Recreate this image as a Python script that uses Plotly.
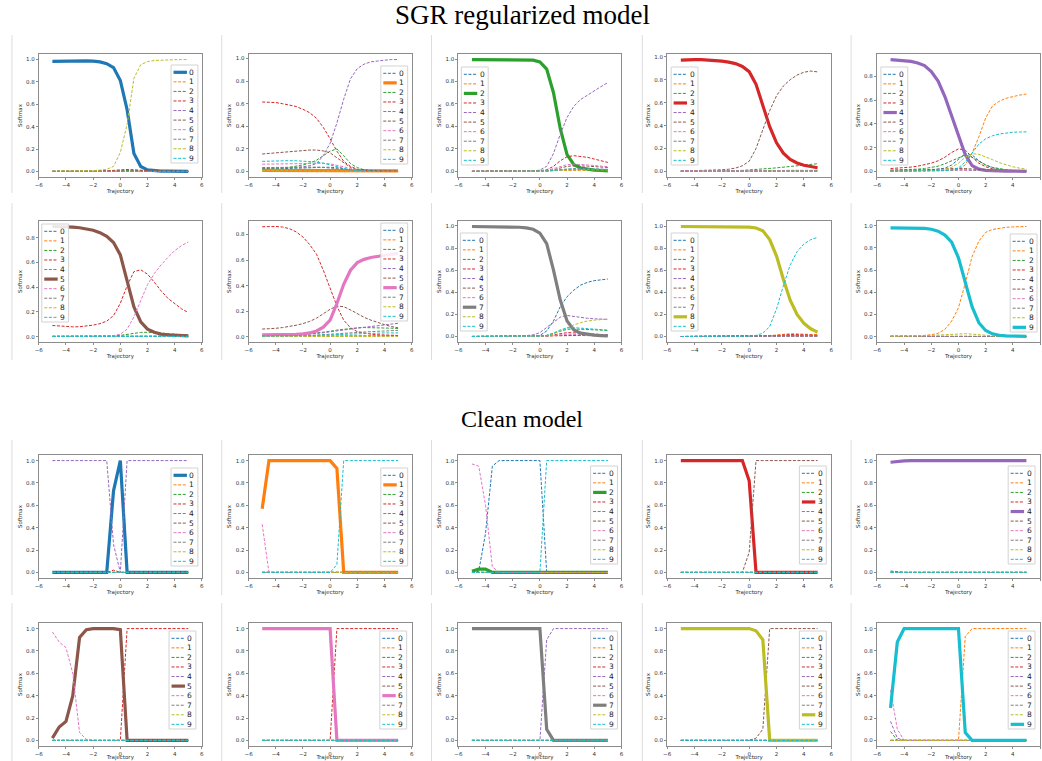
import plotly.graph_objects as go

x_traj = [-5.0, -4.5, -4.0, -3.5, -3.0, -2.5, -2.0, -1.5, -1.0, -0.5, 0.0,
          0.5, 1.0, 1.5, 2.0, 2.5, 3.0, 3.5, 4.0, 4.5, 5.0]
class_labels = ['0', '1', '2', '3', '4', '5', '6', '7', '8', '9']
x_tickvals = [-6, -4, -2, 0, 2, 4, 6]
x_ticktext = ['\u22126', '\u22124', '\u22122', '0', '2', '4', '6']
y_tickvals = [0.0, 0.2, 0.4, 0.6, 0.8, 1.0]
y_ticktext = ['0.0', '0.2', '0.4', '0.6', '0.8', '1.0']
section_titles = ['SGR regularized model', 'Clean model']

# ---------------- SGR regularized model ----------------
sgr_0 = [
    [0.980,0.982,0.984,0.985,0.985, 0.984,0.982,0.975,0.960,0.925, 0.810,0.550,0.160,0.045,0.015, 0.007,0.004,0.003,0.002,0.002, 0.002],
    [0.002,0.002,0.002,0.002,0.002, 0.002,0.003,0.004,0.006,0.008, 0.012,0.015,0.012,0.008,0.005, 0.003,0.002,0.002,0.001,0.001, 0.001],
    [0.001,0.001,0.001,0.001,0.001, 0.001,0.001,0.002,0.003,0.004, 0.006,0.008,0.007,0.005,0.003, 0.002,0.001,0.001,0.001,0.001, 0.001],
    [0.002,0.002,0.002,0.002,0.002, 0.002,0.003,0.004,0.006,0.010, 0.015,0.018,0.015,0.010,0.006, 0.004,0.003,0.002,0.002,0.001, 0.001],
    [0.001,0.001,0.001,0.001,0.001, 0.001,0.001,0.001,0.002,0.002, 0.003,0.003,0.002,0.002,0.001, 0.001,0.001,0.001,0.001,0.001, 0.001],
    [0.002,0.002,0.002,0.002,0.002, 0.002,0.002,0.003,0.003,0.004, 0.005,0.005,0.004,0.003,0.002, 0.001,0.001,0.001,0.001,0.001, 0.001],
    [0.001,0.001,0.001,0.001,0.001, 0.001,0.001,0.002,0.002,0.003, 0.004,0.004,0.003,0.002,0.001, 0.001,0.001,0.001,0.001,0.001, 0.001],
    [0.002,0.002,0.002,0.002,0.002, 0.002,0.002,0.002,0.003,0.004, 0.005,0.005,0.004,0.003,0.002, 0.001,0.001,0.001,0.001,0.001, 0.001],
    [0.004,0.004,0.004,0.005,0.005, 0.006,0.008,0.012,0.020,0.045, 0.170,0.420,0.830,0.950,0.978, 0.988,0.992,0.994,0.995,0.996, 0.996],
    [0.001,0.001,0.001,0.001,0.001, 0.001,0.001,0.002,0.002,0.003, 0.004,0.004,0.003,0.002,0.001, 0.001,0.001,0.001,0.001,0.001, 0.001],
]
sgr_1 = [
    [0.020,0.021,0.022,0.023,0.025, 0.027,0.030,0.033,0.036,0.038, 0.038,0.033,0.022,0.012,0.006, 0.003,0.002,0.001,0.001,0.001, 0.001],
    [0.010,0.010,0.010,0.010,0.010, 0.010,0.010,0.010,0.010,0.010, 0.010,0.010,0.009,0.008,0.007, 0.006,0.006,0.005,0.005,0.005, 0.005],
    [0.025,0.026,0.028,0.032,0.038, 0.046,0.058,0.075,0.100,0.140, 0.180,0.200,0.140,0.070,0.035, 0.015,0.008,0.005,0.003,0.002, 0.002],
    [0.615,0.615,0.610,0.600,0.590, 0.575,0.550,0.520,0.470,0.390, 0.290,0.180,0.090,0.045,0.020, 0.010,0.006,0.004,0.003,0.002, 0.002],
    [0.030,0.030,0.030,0.031,0.033, 0.036,0.042,0.052,0.070,0.140, 0.250,0.430,0.640,0.820,0.910, 0.950,0.970,0.980,0.985,0.990, 0.990],
    [0.155,0.160,0.167,0.173,0.179, 0.184,0.187,0.190,0.190,0.182, 0.165,0.120,0.075,0.035,0.015, 0.007,0.004,0.003,0.002,0.001, 0.001],
    [0.065,0.066,0.067,0.068,0.070, 0.071,0.072,0.073,0.074,0.073, 0.068,0.058,0.042,0.025,0.013, 0.007,0.004,0.003,0.002,0.001, 0.001],
    [0.035,0.036,0.037,0.038,0.039, 0.040,0.040,0.040,0.039,0.036, 0.031,0.025,0.017,0.010,0.006, 0.003,0.002,0.001,0.001,0.001, 0.001],
    [0.008,0.008,0.008,0.008,0.008, 0.008,0.008,0.008,0.008,0.008, 0.008,0.007,0.006,0.004,0.003, 0.002,0.001,0.001,0.001,0.001, 0.001],
    [0.090,0.093,0.095,0.096,0.096, 0.095,0.093,0.090,0.084,0.074, 0.058,0.040,0.024,0.013,0.007, 0.004,0.002,0.001,0.001,0.001, 0.001],
]
sgr_2 = [
    [0.001,0.001,0.001,0.001,0.001, 0.001,0.001,0.001,0.001,0.002, 0.003,0.005,0.008,0.012,0.015, 0.017,0.018,0.018,0.017,0.016, 0.015],
    [0.001,0.001,0.001,0.001,0.001, 0.001,0.001,0.001,0.001,0.002, 0.003,0.005,0.007,0.009,0.010, 0.010,0.010,0.010,0.010,0.010, 0.010],
    [0.995,0.995,0.995,0.995,0.995, 0.995,0.995,0.994,0.993,0.990, 0.975,0.910,0.700,0.380,0.150, 0.060,0.030,0.020,0.012,0.008, 0.005],
    [0.001,0.001,0.001,0.001,0.001, 0.001,0.001,0.001,0.002,0.003, 0.006,0.015,0.045,0.095,0.130, 0.140,0.135,0.125,0.110,0.095, 0.080],
    [0.001,0.001,0.001,0.001,0.001, 0.001,0.001,0.001,0.002,0.004, 0.012,0.045,0.160,0.330,0.480, 0.580,0.640,0.680,0.720,0.755, 0.790],
    [0.000,0.000,0.000,0.000,0.000, 0.000,0.000,0.000,0.001,0.002, 0.003,0.005,0.015,0.030,0.045, 0.050,0.050,0.047,0.043,0.038, 0.035],
    [0.000,0.000,0.000,0.000,0.000, 0.000,0.000,0.000,0.001,0.002, 0.004,0.008,0.025,0.045,0.060, 0.065,0.063,0.058,0.052,0.047, 0.042],
    [0.000,0.000,0.000,0.000,0.000, 0.000,0.000,0.000,0.001,0.001, 0.002,0.004,0.010,0.017,0.022, 0.025,0.025,0.024,0.022,0.020, 0.018],
    [0.000,0.000,0.000,0.000,0.000, 0.000,0.000,0.000,0.001,0.001, 0.002,0.004,0.008,0.012,0.015, 0.016,0.016,0.015,0.014,0.013, 0.012],
    [0.000,0.000,0.000,0.000,0.000, 0.000,0.000,0.000,0.001,0.001, 0.002,0.003,0.008,0.015,0.020, 0.022,0.022,0.021,0.020,0.019, 0.018],
]
sgr_3 = [
    [0.003,0.003,0.003,0.003,0.003, 0.003,0.003,0.003,0.004,0.004, 0.005,0.006,0.007,0.008,0.009, 0.009,0.010,0.010,0.010,0.010, 0.010],
    [0.002,0.002,0.002,0.002,0.002, 0.002,0.002,0.002,0.003,0.003, 0.004,0.005,0.005,0.006,0.006, 0.006,0.006,0.006,0.006,0.006, 0.006],
    [0.002,0.002,0.002,0.003,0.003, 0.004,0.005,0.006,0.008,0.010, 0.013,0.017,0.022,0.027,0.032, 0.037,0.042,0.047,0.053,0.060, 0.068],
    [0.970,0.975,0.975,0.975,0.972, 0.968,0.962,0.953,0.940,0.915, 0.870,0.760,0.570,0.390,0.250, 0.160,0.105,0.075,0.055,0.042, 0.033],
    [0.002,0.002,0.002,0.002,0.002, 0.002,0.002,0.003,0.003,0.004, 0.005,0.006,0.007,0.007,0.007, 0.007,0.007,0.007,0.007,0.007, 0.007],
    [0.005,0.006,0.007,0.008,0.010, 0.012,0.015,0.020,0.030,0.050, 0.090,0.200,0.370,0.530,0.660, 0.745,0.800,0.840,0.865,0.875, 0.868],
    [0.008,0.008,0.008,0.008,0.008, 0.008,0.008,0.008,0.009,0.009, 0.010,0.010,0.010,0.010,0.010, 0.010,0.009,0.009,0.009,0.009, 0.009],
    [0.002,0.002,0.002,0.002,0.002, 0.002,0.002,0.002,0.002,0.003, 0.003,0.003,0.004,0.004,0.004, 0.004,0.004,0.004,0.004,0.004, 0.004],
    [0.001,0.001,0.001,0.001,0.001, 0.001,0.001,0.001,0.002,0.002, 0.002,0.003,0.003,0.003,0.003, 0.003,0.003,0.003,0.003,0.003, 0.003],
    [0.001,0.001,0.001,0.001,0.001, 0.001,0.001,0.001,0.001,0.001, 0.002,0.002,0.002,0.002,0.002, 0.002,0.002,0.002,0.002,0.002, 0.002],
]
sgr_4 = [
    [0.005,0.005,0.006,0.007,0.008, 0.010,0.013,0.018,0.028,0.055, 0.100,0.150,0.140,0.090,0.055, 0.032,0.020,0.013,0.009,0.006, 0.005],
    [0.002,0.002,0.002,0.002,0.003, 0.003,0.004,0.005,0.007,0.010, 0.020,0.056,0.155,0.290,0.450, 0.550,0.590,0.615,0.630,0.642, 0.650],
    [0.012,0.013,0.015,0.017,0.020, 0.025,0.033,0.045,0.065,0.090, 0.120,0.140,0.120,0.085,0.055, 0.035,0.022,0.015,0.010,0.007, 0.005],
    [0.025,0.028,0.032,0.037,0.045, 0.055,0.070,0.090,0.120,0.160, 0.190,0.180,0.120,0.070,0.040, 0.022,0.013,0.008,0.005,0.003, 0.002],
    [0.940,0.935,0.930,0.925,0.912, 0.890,0.840,0.760,0.630,0.460, 0.300,0.140,0.050,0.020,0.010, 0.006,0.004,0.003,0.003,0.002, 0.002],
    [0.010,0.010,0.011,0.012,0.013, 0.015,0.017,0.020,0.023,0.025, 0.027,0.025,0.020,0.014,0.010, 0.007,0.005,0.004,0.003,0.002, 0.002],
    [0.004,0.004,0.004,0.005,0.005, 0.006,0.007,0.008,0.009,0.010, 0.011,0.010,0.008,0.006,0.004, 0.003,0.002,0.002,0.001,0.001, 0.001],
    [0.004,0.004,0.005,0.005,0.006, 0.007,0.008,0.010,0.012,0.014, 0.016,0.015,0.012,0.009,0.006, 0.004,0.003,0.002,0.002,0.001, 0.001],
    [0.003,0.003,0.004,0.004,0.005, 0.006,0.008,0.012,0.020,0.035, 0.070,0.120,0.150,0.145,0.125, 0.100,0.075,0.055,0.040,0.028, 0.020],
    [0.002,0.002,0.002,0.002,0.003, 0.003,0.004,0.005,0.008,0.013, 0.030,0.080,0.160,0.230,0.275, 0.300,0.315,0.325,0.330,0.332, 0.333],
]
sgr_5 = [
    [0.002,0.002,0.002,0.002,0.002, 0.002,0.002,0.002,0.003,0.003, 0.004,0.004,0.004,0.004,0.003, 0.003,0.003,0.002,0.002,0.002, 0.002],
    [0.001,0.001,0.001,0.001,0.001, 0.001,0.001,0.001,0.002,0.002, 0.002,0.003,0.003,0.003,0.003, 0.002,0.002,0.002,0.002,0.002, 0.002],
    [0.002,0.002,0.002,0.002,0.002, 0.002,0.003,0.003,0.004,0.006, 0.010,0.018,0.028,0.034,0.035, 0.033,0.029,0.024,0.019,0.015, 0.012],
    [0.090,0.085,0.080,0.079,0.080, 0.085,0.093,0.105,0.125,0.170, 0.270,0.410,0.525,0.540,0.505, 0.440,0.370,0.310,0.265,0.225, 0.195],
    [0.003,0.003,0.003,0.003,0.003, 0.003,0.003,0.003,0.004,0.004, 0.005,0.005,0.005,0.005,0.005, 0.004,0.004,0.004,0.004,0.004, 0.004],
    [0.890,0.890,0.888,0.885,0.880, 0.872,0.860,0.840,0.810,0.760, 0.660,0.450,0.240,0.120,0.060, 0.035,0.020,0.014,0.010,0.008, 0.006],
    [0.001,0.001,0.001,0.001,0.001, 0.001,0.001,0.002,0.004,0.008, 0.020,0.060,0.160,0.290,0.420, 0.510,0.580,0.640,0.695,0.735, 0.765],
    [0.002,0.002,0.002,0.002,0.002, 0.002,0.002,0.002,0.002,0.003, 0.003,0.003,0.003,0.003,0.003, 0.003,0.003,0.003,0.003,0.003, 0.003],
    [0.001,0.001,0.001,0.001,0.001, 0.001,0.001,0.001,0.001,0.001, 0.002,0.002,0.002,0.002,0.002, 0.002,0.002,0.002,0.002,0.002, 0.002],
    [0.001,0.001,0.001,0.001,0.001, 0.001,0.001,0.001,0.001,0.001, 0.001,0.001,0.001,0.001,0.001, 0.001,0.001,0.001,0.001,0.001, 0.001],
]
sgr_6 = [
    [0.003,0.003,0.003,0.003,0.003, 0.003,0.004,0.004,0.005,0.005, 0.006,0.007,0.007,0.008,0.008, 0.008,0.008,0.008,0.008,0.008, 0.008],
    [0.004,0.004,0.004,0.004,0.004, 0.004,0.004,0.005,0.005,0.005, 0.006,0.006,0.006,0.006,0.006, 0.006,0.006,0.006,0.006,0.006, 0.006],
    [0.008,0.009,0.010,0.011,0.013, 0.015,0.018,0.022,0.028,0.035, 0.043,0.052,0.060,0.066,0.070, 0.072,0.072,0.071,0.069,0.067, 0.065],
    [0.860,0.862,0.862,0.858,0.845, 0.820,0.780,0.720,0.645,0.520, 0.380,0.240,0.130,0.070,0.040, 0.027,0.020,0.016,0.013,0.011, 0.010],
    [0.010,0.010,0.011,0.012,0.013, 0.015,0.017,0.020,0.025,0.031, 0.039,0.047,0.055,0.062,0.068, 0.074,0.080,0.086,0.092,0.098, 0.105],
    [0.060,0.062,0.066,0.072,0.080, 0.090,0.103,0.120,0.145,0.180, 0.215,0.240,0.235,0.210,0.180, 0.152,0.130,0.110,0.095,0.080, 0.070],
    [0.015,0.015,0.015,0.016,0.017, 0.019,0.023,0.030,0.045,0.075, 0.130,0.260,0.410,0.520,0.580, 0.605,0.620,0.630,0.640,0.645, 0.650],
    [0.004,0.004,0.005,0.005,0.006, 0.007,0.008,0.010,0.012,0.015, 0.019,0.023,0.027,0.031,0.035, 0.038,0.041,0.043,0.045,0.047, 0.050],
    [0.002,0.002,0.002,0.002,0.002, 0.002,0.002,0.003,0.003,0.003, 0.004,0.004,0.004,0.004,0.004, 0.004,0.004,0.004,0.004,0.004, 0.004],
    [0.005,0.005,0.005,0.006,0.006, 0.007,0.008,0.009,0.011,0.013, 0.016,0.019,0.022,0.024,0.026, 0.027,0.028,0.029,0.030,0.030, 0.030],
]
sgr_7 = [
    [0.001,0.001,0.001,0.001,0.001, 0.001,0.001,0.001,0.002,0.004, 0.010,0.050,0.140,0.270,0.360, 0.420,0.465,0.490,0.505,0.515, 0.520],
    [0.000,0.000,0.000,0.000,0.000, 0.000,0.000,0.000,0.001,0.001, 0.002,0.004,0.007,0.009,0.010, 0.010,0.010,0.009,0.009,0.008, 0.008],
    [0.000,0.000,0.000,0.000,0.000, 0.000,0.000,0.001,0.001,0.002, 0.004,0.010,0.030,0.050,0.065, 0.068,0.065,0.062,0.060,0.058, 0.055],
    [0.000,0.000,0.000,0.000,0.000, 0.000,0.000,0.000,0.001,0.001, 0.002,0.005,0.015,0.028,0.035, 0.033,0.028,0.024,0.020,0.018, 0.015],
    [0.001,0.001,0.001,0.001,0.001, 0.002,0.003,0.005,0.008,0.015, 0.035,0.080,0.130,0.175,0.190, 0.180,0.170,0.165,0.160,0.157, 0.155],
    [0.000,0.000,0.000,0.000,0.000, 0.000,0.000,0.000,0.001,0.001, 0.002,0.004,0.007,0.009,0.010, 0.010,0.009,0.008,0.008,0.007, 0.007],
    [0.000,0.000,0.000,0.000,0.000, 0.000,0.000,0.000,0.001,0.001, 0.002,0.004,0.010,0.018,0.020, 0.018,0.015,0.013,0.012,0.011, 0.010],
    [0.995,0.995,0.995,0.995,0.994, 0.993,0.991,0.988,0.982,0.970, 0.935,0.840,0.600,0.330,0.140, 0.060,0.030,0.020,0.012,0.008, 0.005],
    [0.000,0.000,0.000,0.000,0.000, 0.000,0.000,0.000,0.001,0.002, 0.003,0.008,0.025,0.050,0.080, 0.105,0.125,0.140,0.148,0.155, 0.158],
    [0.000,0.000,0.000,0.000,0.000, 0.000,0.000,0.000,0.001,0.002, 0.004,0.010,0.030,0.060,0.078, 0.080,0.077,0.072,0.067,0.062, 0.058],
]
sgr_8 = [
    [0.000,0.000,0.000,0.000,0.000, 0.000,0.000,0.000,0.000,0.000, 0.001,0.001,0.002,0.003,0.004, 0.005,0.006,0.006,0.006,0.006, 0.006],
    [0.000,0.000,0.000,0.000,0.000, 0.000,0.000,0.000,0.000,0.000, 0.001,0.001,0.003,0.008,0.015, 0.022,0.025,0.024,0.022,0.019, 0.016],
    [0.000,0.000,0.000,0.000,0.000, 0.000,0.000,0.000,0.000,0.000, 0.001,0.001,0.002,0.004,0.006, 0.008,0.009,0.009,0.008,0.008, 0.007],
    [0.000,0.000,0.000,0.000,0.000, 0.000,0.000,0.000,0.000,0.000, 0.001,0.001,0.003,0.006,0.010, 0.015,0.018,0.017,0.015,0.013, 0.012],
    [0.000,0.000,0.000,0.000,0.000, 0.000,0.000,0.000,0.000,0.000, 0.001,0.001,0.001,0.002,0.003, 0.004,0.004,0.004,0.004,0.004, 0.004],
    [0.000,0.000,0.000,0.000,0.000, 0.000,0.000,0.000,0.000,0.000, 0.001,0.001,0.002,0.003,0.005, 0.006,0.007,0.007,0.007,0.006, 0.006],
    [0.000,0.000,0.000,0.000,0.000, 0.000,0.000,0.000,0.000,0.000, 0.001,0.001,0.001,0.002,0.003, 0.004,0.004,0.004,0.004,0.004, 0.004],
    [0.000,0.000,0.000,0.000,0.000, 0.000,0.000,0.000,0.000,0.000, 0.001,0.001,0.001,0.002,0.003, 0.003,0.003,0.003,0.003,0.003, 0.003],
    [0.999,0.999,0.999,0.999,0.999, 0.999,0.999,0.999,0.998,0.997, 0.994,0.985,0.960,0.880,0.730, 0.520,0.330,0.200,0.120,0.070, 0.040],
    [0.000,0.000,0.000,0.000,0.000, 0.000,0.000,0.000,0.000,0.001, 0.003,0.010,0.030,0.090,0.250, 0.460,0.650,0.770,0.840,0.880, 0.900],
]
sgr_9 = [
    [0.002,0.002,0.002,0.002,0.002, 0.002,0.002,0.002,0.002,0.002, 0.002,0.002,0.002,0.002,0.001, 0.001,0.001,0.001,0.001,0.001, 0.001],
    [0.004,0.004,0.005,0.006,0.008, 0.011,0.017,0.030,0.065,0.140, 0.260,0.480,0.720,0.860,0.940, 0.965,0.978,0.985,0.988,0.990, 0.992],
    [0.002,0.002,0.002,0.002,0.002, 0.002,0.002,0.002,0.003,0.003, 0.003,0.003,0.003,0.002,0.002, 0.002,0.001,0.001,0.001,0.001, 0.001],
    [0.001,0.001,0.001,0.001,0.001, 0.001,0.001,0.001,0.002,0.002, 0.002,0.002,0.002,0.002,0.001, 0.001,0.001,0.001,0.001,0.001, 0.001],
    [0.001,0.001,0.001,0.001,0.001, 0.001,0.001,0.001,0.001,0.001, 0.001,0.001,0.001,0.001,0.001, 0.001,0.001,0.001,0.001,0.001, 0.001],
    [0.002,0.002,0.002,0.002,0.002, 0.002,0.002,0.002,0.002,0.002, 0.002,0.002,0.002,0.002,0.001, 0.001,0.001,0.001,0.001,0.001, 0.001],
    [0.001,0.001,0.001,0.001,0.001, 0.001,0.001,0.001,0.001,0.001, 0.001,0.001,0.001,0.001,0.001, 0.001,0.001,0.001,0.001,0.001, 0.001],
    [0.003,0.003,0.003,0.003,0.003, 0.003,0.003,0.003,0.003,0.003, 0.003,0.003,0.003,0.002,0.002, 0.002,0.001,0.001,0.001,0.001, 0.001],
    [0.003,0.003,0.004,0.005,0.006, 0.008,0.011,0.015,0.019,0.023, 0.026,0.026,0.022,0.016,0.010, 0.007,0.005,0.003,0.002,0.002, 0.001],
    [0.980,0.980,0.980,0.979,0.978, 0.975,0.967,0.950,0.915,0.850, 0.710,0.500,0.270,0.125,0.055, 0.025,0.012,0.007,0.005,0.004, 0.003],
]

# ---------------- Clean model ----------------
clean_0 = [
    [0, 0, 0, 0, 0,  0, 0, 0, 0, 0.73,  1.0, 0, 0, 0, 0,  0, 0, 0, 0, 0,  0],
    [0, 0, 0, 0, 0,  0, 0, 0, 0, 0,  0, 0, 0, 0, 0,  0, 0, 0, 0, 0,  0],
    [0, 0, 0, 0, 0,  0, 0, 0, 0, 0,  0, 0, 0, 0, 0,  0, 0, 0, 0, 0,  0],
    [0, 0, 0, 0, 0,  0, 0, 0, 0, 0.02,  0, 0, 0, 0, 0,  0, 0, 0, 0, 0,  0],
    [1, 1, 1, 1, 1,  1, 1, 1, 1, 0.25,  0.0, 1, 1, 1, 1,  1, 1, 1, 1, 1,  1],
    [0, 0, 0, 0, 0,  0, 0, 0, 0, 0,  0, 0, 0, 0, 0,  0, 0, 0, 0, 0,  0],
    [0, 0, 0, 0, 0,  0, 0, 0, 0, 0,  0, 0, 0, 0, 0,  0, 0, 0, 0, 0,  0],
    [0, 0, 0, 0, 0,  0, 0, 0, 0, 0,  0, 0, 0, 0, 0,  0, 0, 0, 0, 0,  0],
    [0, 0, 0, 0, 0,  0, 0, 0, 0, 0,  0, 0, 0, 0, 0,  0, 0, 0, 0, 0,  0],
    [0, 0, 0, 0, 0,  0, 0, 0, 0, 0,  0.005, 0, 0, 0, 0,  0, 0, 0, 0, 0,  0],
]
clean_1 = [
    [0, 0, 0, 0, 0,  0, 0, 0, 0, 0,  0, 0, 0, 0, 0,  0, 0, 0, 0, 0,  0],
    [0.57, 1, 1, 1, 1,  1, 1, 1, 1, 1,  1, 0.93, 0, 0, 0,  0, 0, 0, 0, 0,  0],
    [0, 0, 0, 0, 0,  0, 0, 0, 0, 0,  0, 0, 0, 0, 0,  0, 0, 0, 0, 0,  0],
    [0, 0, 0, 0, 0,  0, 0, 0, 0, 0,  0, 0, 0, 0, 0,  0, 0, 0, 0, 0,  0],
    [0, 0, 0, 0, 0,  0, 0, 0, 0, 0,  0, 0, 0, 0, 0,  0, 0, 0, 0, 0,  0],
    [0, 0, 0, 0, 0,  0, 0, 0, 0, 0,  0, 0, 0, 0, 0,  0, 0, 0, 0, 0,  0],
    [0.43, 0, 0, 0, 0,  0, 0, 0, 0, 0,  0, 0, 0, 0, 0,  0, 0, 0, 0, 0,  0],
    [0, 0, 0, 0, 0,  0, 0, 0, 0, 0,  0, 0, 0, 0, 0,  0, 0, 0, 0, 0,  0],
    [0, 0, 0, 0, 0,  0, 0, 0, 0, 0,  0, 0, 0, 0, 0,  0, 0, 0, 0, 0,  0],
    [0, 0, 0, 0, 0,  0, 0, 0, 0, 0,  0, 0.07, 1, 1, 1,  1, 1, 1, 1, 1,  1],
]
clean_2 = [
    [0, 0.01, 0.35, 0.95, 1,  1, 1, 1, 1, 1,  1, 0, 0, 0, 0,  0, 0, 0, 0, 0,  0],
    [0, 0, 0, 0, 0,  0, 0, 0, 0, 0,  0, 0, 0, 0, 0,  0, 0, 0, 0, 0,  0],
    [0.01, 0.03, 0.03, 0, 0,  0, 0, 0, 0, 0,  0, 0, 0, 0, 0,  0, 0, 0, 0, 0,  0],
    [0, 0, 0, 0, 0,  0, 0, 0, 0, 0,  0, 0, 0, 0, 0,  0, 0, 0, 0, 0,  0],
    [0, 0, 0, 0, 0,  0, 0, 0, 0, 0,  0, 0, 0, 0, 0,  0, 0, 0, 0, 0,  0],
    [0, 0, 0, 0, 0,  0, 0, 0, 0, 0,  0, 0, 0, 0, 0,  0, 0, 0, 0, 0,  0],
    [0.97, 0.95, 0.6, 0.05, 0,  0, 0, 0, 0, 0,  0, 0, 0, 0, 0,  0, 0, 0, 0, 0,  0],
    [0, 0, 0, 0, 0,  0, 0, 0, 0, 0,  0, 0, 0, 0, 0,  0, 0, 0, 0, 0,  0],
    [0, 0, 0, 0, 0,  0, 0, 0, 0, 0,  0, 0, 0, 0, 0,  0, 0, 0, 0, 0,  0],
    [0, 0, 0, 0, 0,  0, 0, 0, 0, 0,  0, 1, 1, 1, 1,  1, 1, 1, 1, 1,  1],
]
clean_3 = [
    [0, 0, 0, 0, 0,  0, 0, 0, 0, 0,  0, 0, 0, 0, 0,  0, 0, 0, 0, 0,  0],
    [0, 0, 0, 0, 0,  0, 0, 0, 0, 0,  0, 0, 0, 0, 0,  0, 0, 0, 0, 0,  0],
    [0, 0, 0, 0, 0,  0, 0, 0, 0, 0,  0, 0, 0, 0, 0,  0, 0, 0, 0, 0,  0],
    [1, 1, 1, 1, 1,  1, 1, 1, 1, 1,  0.82, 0, 0, 0, 0,  0, 0, 0, 0, 0,  0],
    [0, 0, 0, 0, 0,  0, 0, 0, 0, 0,  0, 0, 0, 0, 0,  0, 0, 0, 0, 0,  0],
    [0, 0, 0, 0, 0,  0, 0, 0, 0, 0,  0.18, 1, 1, 1, 1,  1, 1, 1, 1, 1,  1],
    [0, 0, 0, 0, 0,  0, 0, 0, 0, 0,  0, 0, 0, 0, 0,  0, 0, 0, 0, 0,  0],
    [0, 0, 0, 0, 0,  0, 0, 0, 0, 0,  0, 0, 0, 0, 0,  0, 0, 0, 0, 0,  0],
    [0, 0, 0, 0, 0,  0, 0, 0, 0, 0,  0, 0, 0, 0, 0,  0, 0, 0, 0, 0,  0],
    [0, 0, 0, 0, 0,  0, 0, 0, 0, 0,  0, 0, 0, 0, 0,  0, 0, 0, 0, 0,  0],
]
clean_4 = [
    [0.012, 0.004, 0, 0, 0,  0, 0, 0, 0, 0,  0, 0, 0, 0, 0,  0, 0, 0, 0, 0,  0],
    [0, 0, 0, 0, 0,  0, 0, 0, 0, 0,  0, 0, 0, 0, 0,  0, 0, 0, 0, 0,  0],
    [0, 0, 0, 0, 0,  0, 0, 0, 0, 0,  0, 0, 0, 0, 0,  0, 0, 0, 0, 0,  0],
    [0, 0, 0, 0, 0,  0, 0, 0, 0, 0,  0, 0, 0, 0, 0,  0, 0, 0, 0, 0,  0],
    [0.985, 0.995, 0.998, 1, 1,  1, 1, 1, 1, 1,  1, 1, 1, 1, 1,  1, 1, 1, 1, 1,  1],
    [0, 0, 0, 0, 0,  0, 0, 0, 0, 0,  0, 0, 0, 0, 0,  0, 0, 0, 0, 0,  0],
    [0, 0, 0, 0, 0,  0, 0, 0, 0, 0,  0, 0, 0, 0, 0,  0, 0, 0, 0, 0,  0],
    [0, 0, 0, 0, 0,  0, 0, 0, 0, 0,  0, 0, 0, 0, 0,  0, 0, 0, 0, 0,  0],
    [0, 0, 0, 0, 0,  0, 0, 0, 0, 0,  0, 0, 0, 0, 0,  0, 0, 0, 0, 0,  0],
    [0, 0, 0, 0, 0,  0, 0, 0, 0, 0,  0, 0, 0, 0, 0,  0, 0, 0, 0, 0,  0],
]
clean_5 = [
    [0, 0, 0, 0, 0,  0, 0, 0, 0, 0,  0, 0, 0, 0, 0,  0, 0, 0, 0, 0,  0],
    [0, 0, 0, 0, 0,  0, 0, 0, 0, 0,  0, 0, 0, 0, 0,  0, 0, 0, 0, 0,  0],
    [0, 0, 0, 0, 0,  0, 0, 0, 0, 0,  0, 0, 0, 0, 0,  0, 0, 0, 0, 0,  0],
    [0, 0, 0, 0, 0,  0, 0, 0, 0, 0,  0, 1, 1, 1, 1,  1, 1, 1, 1, 1,  1],
    [0, 0, 0, 0, 0,  0, 0, 0, 0, 0,  0, 0, 0, 0, 0,  0, 0, 0, 0, 0,  0],
    [0.02, 0.12, 0.17, 0.40, 0.92,  0.99, 1, 1, 1, 1,  0.99, 0, 0, 0, 0,  0, 0, 0, 0, 0,  0],
    [0.97, 0.88, 0.83, 0.60, 0.07,  0.01, 0, 0, 0, 0,  0, 0, 0, 0, 0,  0, 0, 0, 0, 0,  0],
    [0, 0, 0, 0, 0,  0, 0, 0, 0, 0,  0, 0, 0, 0, 0,  0, 0, 0, 0, 0,  0],
    [0, 0, 0, 0, 0,  0, 0, 0, 0, 0,  0, 0, 0, 0, 0,  0, 0, 0, 0, 0,  0],
    [0, 0, 0, 0, 0,  0, 0, 0, 0, 0,  0, 0, 0, 0, 0,  0, 0, 0, 0, 0,  0],
]
clean_6 = [
    [0, 0, 0, 0, 0,  0, 0, 0, 0, 0,  0, 0, 0, 0, 0,  0, 0, 0, 0, 0,  0],
    [0, 0, 0, 0, 0,  0, 0, 0, 0, 0,  0, 0, 0, 0, 0,  0, 0, 0, 0, 0,  0],
    [0, 0, 0, 0, 0,  0, 0, 0, 0, 0,  0, 0, 0, 0, 0,  0, 0, 0, 0, 0,  0],
    [0, 0, 0, 0, 0,  0, 0, 0, 0, 0,  0, 1, 1, 1, 1,  1, 1, 1, 1, 1,  1],
    [0, 0, 0, 0, 0,  0, 0, 0, 0, 0,  0, 0, 0, 0, 0,  0, 0, 0, 0, 0,  0],
    [0, 0, 0, 0, 0,  0, 0, 0, 0, 0,  0, 0, 0, 0, 0,  0, 0, 0, 0, 0,  0],
    [1, 1, 1, 1, 1,  1, 1, 1, 1, 1,  1, 0, 0, 0, 0,  0, 0, 0, 0, 0,  0],
    [0, 0, 0, 0, 0,  0, 0, 0, 0, 0,  0, 0, 0, 0, 0,  0, 0, 0, 0, 0,  0],
    [0, 0, 0, 0, 0,  0, 0, 0, 0, 0,  0, 0, 0, 0, 0,  0, 0, 0, 0, 0,  0],
    [0, 0, 0, 0, 0,  0, 0, 0, 0, 0,  0, 0, 0, 0, 0,  0, 0, 0, 0, 0,  0],
]
clean_7 = [
    [0, 0, 0, 0, 0,  0, 0, 0, 0, 0,  0, 0, 0, 0, 0,  0, 0, 0, 0, 0,  0],
    [0, 0, 0, 0, 0,  0, 0, 0, 0, 0,  0, 0, 0, 0, 0,  0, 0, 0, 0, 0,  0],
    [0, 0, 0, 0, 0,  0, 0, 0, 0, 0,  0, 0, 0, 0, 0,  0, 0, 0, 0, 0,  0],
    [0, 0, 0, 0, 0,  0, 0, 0, 0, 0,  0, 0, 0, 0, 0,  0, 0, 0, 0, 0,  0],
    [0, 0, 0, 0, 0,  0, 0, 0, 0, 0,  0, 0.9, 1, 1, 1,  1, 1, 1, 1, 1,  1],
    [0, 0, 0, 0, 0,  0, 0, 0, 0, 0,  0, 0, 0, 0, 0,  0, 0, 0, 0, 0,  0],
    [0, 0, 0, 0, 0,  0, 0, 0, 0, 0,  0, 0, 0, 0, 0,  0, 0, 0, 0, 0,  0],
    [1, 1, 1, 1, 1,  1, 1, 1, 1, 1,  1, 0.1, 0, 0, 0,  0, 0, 0, 0, 0,  0],
    [0, 0, 0, 0, 0,  0, 0, 0, 0, 0,  0, 0, 0, 0, 0,  0, 0, 0, 0, 0,  0],
    [0, 0, 0, 0, 0,  0, 0, 0, 0, 0,  0, 0, 0, 0, 0,  0, 0, 0, 0, 0,  0],
]
clean_8 = [
    [0, 0, 0, 0, 0,  0, 0, 0, 0, 0,  0, 0, 0, 0, 0,  0, 0, 0, 0, 0,  0],
    [0, 0, 0, 0, 0,  0, 0, 0, 0, 0,  0, 0, 0, 0, 0,  0, 0, 0, 0, 0,  0],
    [0, 0, 0, 0, 0,  0, 0, 0, 0, 0,  0, 0, 0, 0, 0,  0, 0, 0, 0, 0,  0],
    [0, 0, 0, 0, 0,  0, 0, 0, 0, 0,  0, 0, 0, 0, 0,  0, 0, 0, 0, 0,  0],
    [0, 0, 0, 0, 0,  0, 0, 0, 0, 0,  0, 0, 0, 0, 0,  0, 0, 0, 0, 0,  0],
    [0, 0, 0, 0, 0,  0, 0, 0, 0, 0,  0, 0.02, 0.1, 1, 1,  1, 1, 1, 1, 1,  1],
    [0, 0, 0, 0, 0,  0, 0, 0, 0, 0,  0, 0, 0, 0, 0,  0, 0, 0, 0, 0,  0],
    [0, 0, 0, 0, 0,  0, 0, 0, 0, 0,  0, 0, 0, 0, 0,  0, 0, 0, 0, 0,  0],
    [1, 1, 1, 1, 1,  1, 1, 1, 1, 1,  1, 0.98, 0.9, 0, 0,  0, 0, 0, 0, 0,  0],
    [0, 0, 0, 0, 0,  0, 0, 0, 0, 0,  0, 0, 0, 0, 0,  0, 0, 0, 0, 0,  0],
]
clean_9 = [
    [0, 0, 0, 0, 0,  0, 0, 0, 0, 0,  0, 0, 0, 0, 0,  0, 0, 0, 0, 0,  0],
    [0, 0, 0, 0, 0,  0, 0, 0, 0, 0,  0, 0.93, 1, 1, 1,  1, 1, 1, 1, 1,  1],
    [0.08, 0, 0, 0, 0,  0, 0, 0, 0, 0,  0, 0, 0, 0, 0,  0, 0, 0, 0, 0,  0],
    [0, 0, 0, 0, 0,  0, 0, 0, 0, 0,  0, 0, 0, 0, 0,  0, 0, 0, 0, 0,  0],
    [0.17, 0.02, 0, 0, 0,  0, 0, 0, 0, 0,  0, 0, 0, 0, 0,  0, 0, 0, 0, 0,  0],
    [0, 0, 0, 0, 0,  0, 0, 0, 0, 0,  0, 0, 0, 0, 0,  0, 0, 0, 0, 0,  0],
    [0.45, 0.10, 0, 0, 0,  0, 0, 0, 0, 0,  0, 0, 0, 0, 0,  0, 0, 0, 0, 0,  0],
    [0, 0, 0, 0, 0,  0, 0, 0, 0, 0,  0, 0, 0, 0, 0,  0, 0, 0, 0, 0,  0],
    [0, 0, 0, 0, 0,  0, 0, 0, 0, 0,  0, 0, 0, 0, 0,  0, 0, 0, 0, 0,  0],
    [0.29, 0.88, 1, 1, 1,  1, 1, 1, 1, 1,  1, 0.07, 0, 0, 0,  0, 0, 0, 0, 0,  0],
]

panels = [sgr_0, sgr_1, sgr_2, sgr_3, sgr_4, sgr_5, sgr_6, sgr_7, sgr_8, sgr_9,
          clean_0, clean_1, clean_2, clean_3, clean_4, clean_5, clean_6, clean_7, clean_8, clean_9]
highlight = [0, 1, 2, 3, 4, 5, 6, 7, 8, 9, 0, 1, 2, 3, 4, 5, 6, 7, 8, 9]

# ---------------- styling / layout ----------------
tab10 = ['#1f77b4', '#ff7f0e', '#2ca02c', '#d62728', '#9467bd',
         '#8c564b', '#e377c2', '#7f7f7f', '#bcbd22', '#17becf']
W, H = 1042, 761
col_px = [(35, 199), (246, 410), (457, 621), (667, 832), (878, 1042)]
row_px = [(54, 177), (221, 342), (455, 578), (623, 746)]
legend_px = [(168, 65), (379, 66), (460, 67), (671, 67), (882, 67),
             (38, 224), (379, 223), (459, 233), (671, 233), (1012, 234),
             (168, 468), (379, 468), (590, 466), (800, 466), (1010, 466),
             (166, 631), (378, 631), (590, 631), (800, 631), (1010, 631)]
sep_x = [8, 219, 430, 642, 852]
sep_rows = [(35, 193), (203, 360), (440, 595), (603, 761)]
DASH = '3px,1.6px'
AXC = '#8c8c8c'
TF = dict(family='DejaVu Sans', size=5.5, color='#333333')


def fx(p):
    return p / W


def fy(p):
    return 1 - p / H


fig = go.Figure()
shapes = []
annotations = []

for k, vals in enumerate(panels):
    r, c = divmod(k, 5)
    sfx = '' if k == 0 else str(k + 1)
    hi = highlight[k]
    for j in range(10):
        assert len(vals[j]) == len(x_traj)
        fig.add_trace(go.Scatter(
            x=x_traj, y=vals[j], mode='lines', name=class_labels[j],
            xaxis='x' + sfx, yaxis='y' + sfx, showlegend=False, hoverinfo='skip',
            line=dict(color=tab10[j], width=3.2 if j == hi else 1.0,
                      dash='solid' if j == hi else DASH)))
    ymin = min(min(s) for s in vals)
    ymax = max(max(s) for s in vals)
    pad = 0.05 * (ymax - ymin)
    x0, x1 = col_px[c]
    y0, y1 = row_px[r]
    fig.layout['xaxis' + sfx] = dict(
        domain=[fx(x0), fx(x1)], anchor='y' + sfx, range=[-6, 6],
        tickmode='array', tickvals=x_tickvals, ticktext=x_ticktext,
        showline=True, mirror=True, linecolor=AXC, linewidth=1,
        ticks='outside', ticklen=2, tickcolor=AXC, tickfont=TF,
        showgrid=False, zeroline=False,
        title=dict(text='Trajectory', font=TF, standoff=1))
    fig.layout['yaxis' + sfx] = dict(
        domain=[fy(y1), fy(y0)], anchor='x' + sfx, range=[ymin - pad, ymax + pad],
        tickmode='array', tickvals=[v for v in y_tickvals if v <= ymax + pad],
        ticktext=[t for v, t in zip(y_tickvals, y_ticktext) if v <= ymax + pad],
        showline=True, mirror=True, linecolor=AXC, linewidth=1,
        ticks='outside', ticklen=2, tickcolor=AXC, tickfont=TF,
        showgrid=False, zeroline=False,
        title=dict(text='Softmax', font=TF, standoff=3))

    # legend drawn as a box with samples and labels
    L, T = legend_px[k]
    shapes.append(dict(type='rect', xref='paper', yref='paper',
                       x0=fx(L), x1=fx(L + 27), y0=fy(T + 98), y1=fy(T),
                       fillcolor='rgba(255,255,255,0.85)',
                       line=dict(color='#d3d3d3', width=1)))
    for j in range(10):
        yy = T + 7.3 + 9.56 * j
        shapes.append(dict(type='line', xref='paper', yref='paper',
                           x0=fx(L + 2.5), x1=fx(L + 16), y0=fy(yy), y1=fy(yy),
                           line=dict(color=tab10[j], width=3.2 if j == hi else 1.0,
                                     dash='solid' if j == hi else DASH)))
        annotations.append(dict(xref='paper', yref='paper', x=fx(L + 21), y=fy(yy),
                                text=class_labels[j], showarrow=False,
                                xanchor='center', yanchor='middle',
                                font=dict(family='DejaVu Sans', size=7.5, color='#222222')))

for (ya, yb) in sep_rows:
    for sx in sep_x:
        shapes.append(dict(type='line', xref='paper', yref='paper', layer='below',
                           x0=fx(sx), x1=fx(sx), y0=fy(yb), y1=fy(ya),
                           line=dict(color='#dddddd', width=1)))

annotations.append(dict(xref='paper', yref='paper', x=0.5, y=fy(15),
                        text=section_titles[0], showarrow=False,
                        xanchor='center', yanchor='middle',
                        font=dict(family='Liberation Serif', size=27, color='black')))
annotations.append(dict(xref='paper', yref='paper', x=0.5, y=fy(419),
                        text=section_titles[1], showarrow=False,
                        xanchor='center', yanchor='middle',
                        font=dict(family='Liberation Serif', size=24, color='black')))

fig.update_layout(width=W, height=H, margin=dict(l=0, r=0, t=0, b=0),
                  paper_bgcolor='white', plot_bgcolor='white',
                  shapes=shapes, annotations=annotations, showlegend=False)

fig.write_html('out.html', config={'displayModeBar': False},
               post_script="document.body.style.margin='0';document.body.style.overflow='hidden';")
